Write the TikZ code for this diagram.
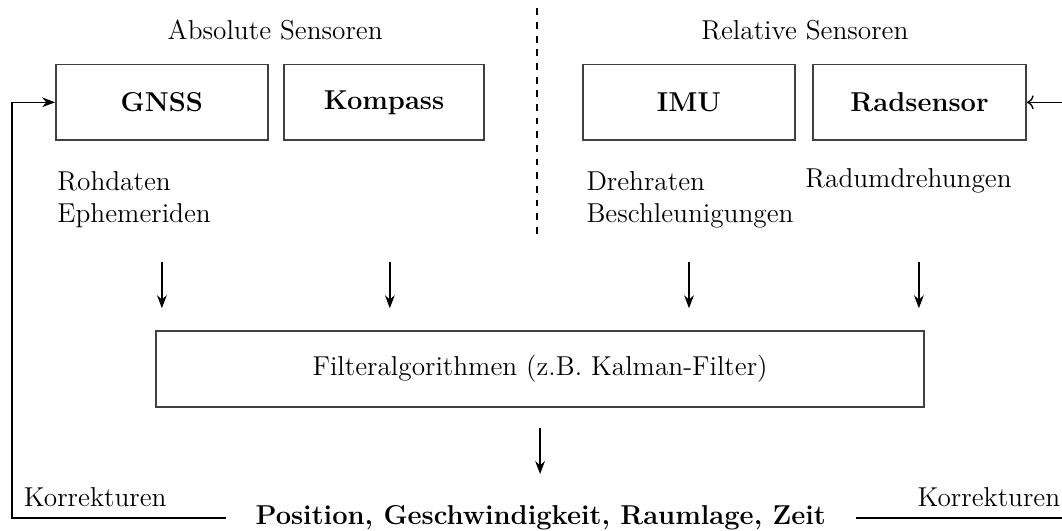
\documentclass[tikz,border=0pt]{standalone}
\usetikzlibrary{positioning,arrows.meta}

\begin{document}
\begin{tikzpicture}[
    font=\large,
    sensorbox/.style={rectangle, draw=black!75, thick, minimum width=3.27cm, minimum height=1.17cm, font=\large\bfseries},
    infotext/.style={align=left, inner sep=0pt, anchor=west},
    pfeil/.style={-{Stealth[length=2mm,width=1.5mm]}, semithick},
    ]
    \useasboundingbox (0,0) rectangle (16.4,8.2);

    %Nodes
    \node                   (abs)   at (4.25,7.74)  {Absolute Sensoren};
    \node                   (rel)   at (12.43,7.74) {Relative Sensoren};
    \node[sensorbox]        (gnss)  at (2.50,6.62)  {GNSS};
    \node[sensorbox, minimum width=3.09cm] (komp) at (5.93,6.62) {Kompass};
    \node[sensorbox]        (imu)   at (10.64,6.62) {IMU};
    \node[sensorbox, minimum width=3.29cm] (rad) at (14.20,6.62) {Radsensor};
    \node[infotext]         (roh)   at (0.88,5.12)  {Rohdaten\\Ephemeriden};
    \node[infotext]         (dreh)  at (9.05,5.12)  {Drehraten\\Beschleunigungen};
    \node                   (radum) at (14.03,5.40) {Radumdrehungen};
    \node[sensorbox, minimum width=11.86cm, font=\large] (filter) at (8.34,2.50) {Filteralgorithmen (z.B. Kalman-Filter)};
    \node[font=\large\bfseries] (pos) at (8.35,0.20) {Position, Geschwindigkeit, Raumlage, Zeit};
    \node                   (korl)  at (1.47,0.525) {Korrekturen};
    \node                   (korr)  at (15.27,0.525) {Korrekturen};

    %Coordinates
    \coordinate (trennO) at (8.29,8.07);
    \coordinate (trennU) at (8.29,4.49);
    \coordinate (a1) at (2.50,4.15);  \coordinate (b1) at (2.50,3.44);
    \coordinate (a2) at (6.02,4.15);  \coordinate (b2) at (6.02,3.44);
    \coordinate (a3) at (10.64,4.15); \coordinate (b3) at (10.64,3.44);
    \coordinate (a4) at (14.19,4.15); \coordinate (b4) at (14.19,3.44);
    \coordinate (a5) at (8.34,1.59);  \coordinate (b5) at (8.34,0.88);
    \coordinate (linksU) at (0.185,0.20);
    \coordinate (linksO) at (0.185,6.62);
    \coordinate (rechtsO) at (16.6,6.62);
    \coordinate (rechtsU) at (16.6,0.20);

    %Lines
    \draw[dashed, semithick] (trennO) -- (trennU);
    \draw[pfeil] (a1) -- (b1);
    \draw[pfeil] (a2) -- (b2);
    \draw[pfeil] (a3) -- (b3);
    \draw[pfeil] (a4) -- (b4);
    \draw[pfeil] (a5) -- (b5);
    \draw[pfeil, shorten <=3.4mm] (pos.west) -- (linksU) -- (linksO) -- (gnss.west);
    \draw[-{To}, semithick] (rechtsO) -- (rad.east);
    \draw[semithick, shorten <=3.4mm] (pos.east) -- (rechtsU);
\end{tikzpicture}
\end{document}
